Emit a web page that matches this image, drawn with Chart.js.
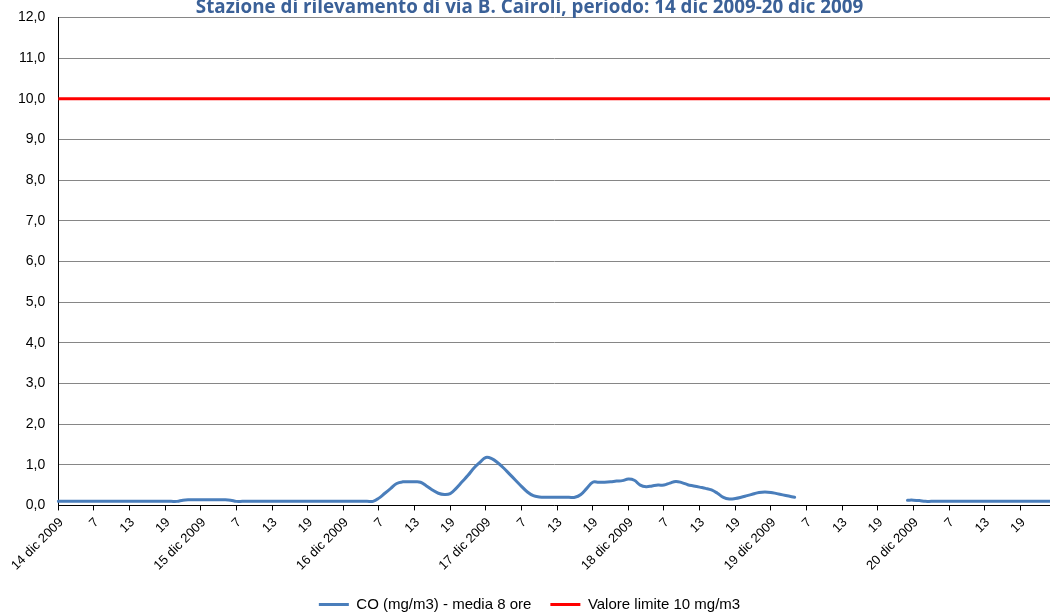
<!DOCTYPE html>
<html>
<head>
<meta charset="utf-8">
<script src="https://cdn.jsdelivr.net/npm/chart.js@4/dist/chart.umd.min.js"></script>
<style>
  html, body { margin: 0; padding: 0; background: #fff; }
  #wrap { width: 1050px; height: 613px; }
</style>
</head>
<body>
<div id="wrap"><canvas id="chart-co"></canvas></div>
<script>
// ── Dati ────────────────────────────────────────────────────────
const days  = ['14 dic 2009', '15 dic 2009', '16 dic 2009', '17 dic 2009',
               '18 dic 2009', '19 dic 2009', '20 dic 2009'];
const hours = [1, 2, 3, 4, 5, 6, 7, 8, 9, 10, 11, 12,
               13, 14, 15, 16, 17, 18, 19, 20, 21, 22, 23, 24];

// CO media 8 ore, un valore per ora (null = dato mancante)
const co14 = [0.10, 0.10, 0.10, 0.10, 0.10, 0.10, 0.10, 0.10, 0.10, 0.10, 0.10, 0.10,
              0.10, 0.10, 0.10, 0.10, 0.10, 0.10, 0.10, 0.10, 0.10, 0.13, 0.14, 0.14];
const co15 = [0.14, 0.14, 0.14, 0.14, 0.14, 0.13, 0.10, 0.10, 0.10, 0.10, 0.10, 0.10,
              0.10, 0.10, 0.10, 0.10, 0.10, 0.10, 0.10, 0.10, 0.10, 0.10, 0.10, 0.10];
const co16 = [0.10, 0.10, 0.10, 0.10, 0.10, 0.10, 0.18, 0.30, 0.42, 0.54, 0.58, 0.58,
              0.58, 0.57, 0.48, 0.38, 0.30, 0.27, 0.29, 0.42, 0.58, 0.74, 0.92, 1.06];
const co17 = [1.18, 1.15, 1.05, 0.92, 0.77, 0.62, 0.47, 0.33, 0.24, 0.21, 0.20, 0.20,
              0.20, 0.20, 0.20, 0.20, 0.27, 0.42, 0.57, 0.57, 0.57, 0.58, 0.60, 0.61];
const co18 = [0.65, 0.62, 0.50, 0.46, 0.48, 0.50, 0.50, 0.55, 0.59, 0.56, 0.51, 0.48,
              0.45, 0.42, 0.38, 0.30, 0.20, 0.16, 0.17, 0.20, 0.24, 0.28, 0.32, 0.33];
const co19 = [0.32, 0.29, 0.26, 0.23, 0.20, null, null, null, null, null, null, null,
              null, null, null, null, null, null, null, null, null, null, null, 0.13];
const co20 = [0.13, 0.12, 0.10, 0.10, 0.10, 0.10, 0.10, 0.10, 0.10, 0.10, 0.10, 0.10,
              0.10, 0.10, 0.10, 0.10, 0.10, 0.10, 0.10, 0.10, 0.10, 0.10, 0.10, 0.10];

const limitValue = 10;   // Valore limite 10 mg/m3
const yMin = 0, yMax = 12, yStep = 1;

// ── Etichette: data alla prima ora, poi numero dell'ora ─────────
const labels = [];
days.forEach(d => hours.forEach(h => labels.push(h === 1 ? d : String(h))));
const coData    = [].concat(co14, co15, co16, co17, co18, co19, co20);
const limitData = labels.map(() => limitValue);

const fontFam = 'Liberation Sans, Arial, sans-serif';

new Chart(document.getElementById('chart-co'), {
    type: 'line',
    data: {
        labels: labels,
        datasets: [
            {
                label: 'CO (mg/m3) - media 8 ore',
                data: coData,
                borderColor: '#4A7EBB',
                backgroundColor: '#4A7EBB',
                borderWidth: 3,
                pointRadius: 0,
                tension: 0.4,
                spanGaps: false,
                borderCapStyle: 'round',
            },
            {
                label: 'Valore limite 10 mg/m3',
                data: limitData,
                borderColor: '#FF0000',
                backgroundColor: '#FF0000',
                borderWidth: 3,
                pointRadius: 0,
                tension: 0,
            }
        ]
    },
    options: {
        responsive: true,
        maintainAspectRatio: false,
        animation: false,
        layout: { padding: { left: 9, right: 0, top: 0, bottom: -9 } },
        plugins: {
            title: {
                display: true,
                text: 'Stazione di rilevamento di via B. Cairoli, periodo: 14 dic 2009-20 dic 2009',
                color: '#3B6198',
                font: { family: 'Open Sans, sans-serif', size: 18.8, weight: 'bold', lineHeight: 0.6 },
                padding: { top: -4, bottom: 4 },
            },
            legend: {
                position: 'bottom',
                labels: {
                    color: '#000',
                    font: { family: fontFam, size: 15 },
                    usePointStyle: true,
                    pointStyle: 'line',
                    pointStyleWidth: 30,
                    padding: 19,
                }
            },
            tooltip: { enabled: false }
        },
        scales: {
            x: {
                offset: false,
                grid: { drawOnChartArea: false, tickLength: 5, color: '#000' },
                border: { color: '#000' },
                ticks: {
                    autoSkip: false,
                    maxRotation: 45,
                    minRotation: 45,
                    color: '#000',
                    font: { family: fontFam, size: 13 },
                    padding: 4.5,
                    labelOffset: 3,
                    callback: (v, i) => (i % 6 === 0 ? labels[i] : null),
                }
            },
            y: {
                min: yMin,
                max: yMax,
                grid: { color: '#868686', tickLength: 4, tickColor: 'rgba(0,0,0,0)' },
                border: { color: '#000' },
                ticks: {
                    stepSize: yStep,
                    color: '#000',
                    font: { family: fontFam, size: 14 },
                    padding: 9,
                    callback: v => v.toFixed(1).replace('.', ','),
                }
            }
        }
    }
});
</script>
</body>
</html>
